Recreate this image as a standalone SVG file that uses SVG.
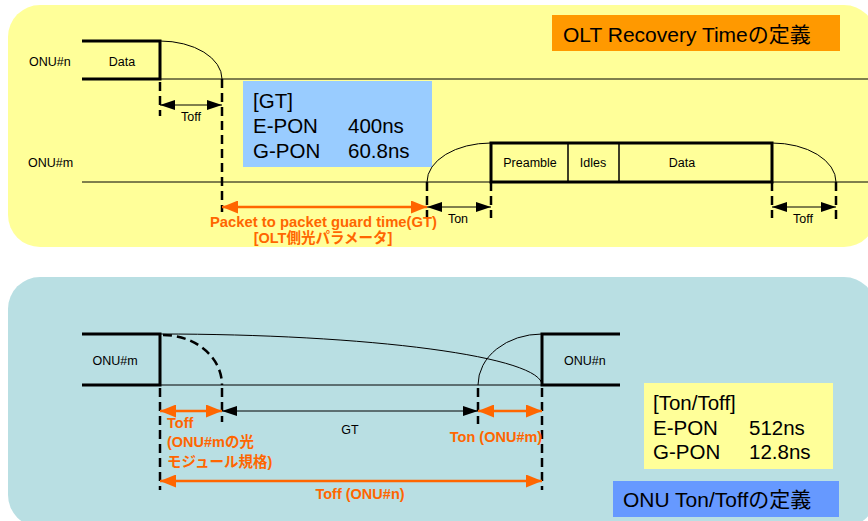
<svg xmlns="http://www.w3.org/2000/svg" width="868" height="521" viewBox="0 0 868 521">
<defs>
<style>
text{font-family:"Liberation Sans","Noto Sans CJK JP",Arial,sans-serif;fill:#000}
.sm{font-size:12.5px}
.big{font-size:20.5px}
.ttl{font-size:21px}
.or{fill:#ff6600;font-weight:bold;font-size:14.5px}
.thick{stroke:#000;stroke-width:3;fill:none}
.thin{stroke:#000;stroke-width:1;fill:none}
.dash{stroke:#000;stroke-width:2.5;fill:none;stroke-dasharray:9 5}
.arr{stroke:#000;stroke-width:1;fill:none;marker-start:url(#ab);marker-end:url(#ae)}
.oarr{stroke:#ff6600;stroke-width:2.5;fill:none;marker-start:url(#ob);marker-end:url(#oe)}
</style>
<marker id="ae" markerUnits="userSpaceOnUse" markerWidth="15" markerHeight="10" refX="15" refY="5" orient="auto"><path d="M0,0 L15,5 L0,10 z" fill="#000"/></marker>
<marker id="ab" markerUnits="userSpaceOnUse" markerWidth="15" markerHeight="10" refX="0" refY="5" orient="auto"><path d="M15,0 L0,5 L15,10 z" fill="#000"/></marker>
<marker id="oe" markerUnits="userSpaceOnUse" markerWidth="16" markerHeight="13" refX="16" refY="6.5" orient="auto"><path d="M0,0 L16,6.5 L0,13 z" fill="#ff6600"/></marker>
<marker id="ob" markerUnits="userSpaceOnUse" markerWidth="16" markerHeight="13" refX="0" refY="6.5" orient="auto"><path d="M16,0 L0,6.5 L16,13 z" fill="#ff6600"/></marker>
</defs>

<g id="panel-top">
<rect x="8" y="5" width="868" height="242" rx="32" fill="#ffff99"/>
</g>
<g id="panel-bottom">
<rect x="8" y="277" width="868" height="250" rx="32" fill="#b9dfe3"/>
</g>

<g id="title-top">
<rect x="552" y="15" width="288" height="36" fill="#ff9900"/>
<text x="563" y="42" class="ttl">OLT Recovery Timeの定義</text>
</g>

<g id="onu-n-top">
<text x="29" y="66" class="sm">ONU#n</text>
<path class="thick" d="M82,41 H160 V79 H82"/>
<text x="122" y="66" class="sm" text-anchor="middle">Data</text>
<path class="thin" d="M160,79 H868"/>
<path class="thin" d="M160,41 A62 38 0 0 1 222 79"/>
</g>

<g id="gt-box">
<rect x="243" y="81" width="189" height="86" fill="#99ccff"/>
<text x="253" y="108" class="big">[GT]</text>
<text x="253" y="133" class="big">E-PON</text>
<text x="348" y="133" class="big">400ns</text>
<text x="253" y="158" class="big">G-PON</text>
<text x="348" y="158" class="big">60.8ns</text>
</g>

<g id="onu-m-top">
<text x="28" y="167" class="sm">ONU#m</text>
<path class="thin" d="M82,182 H868"/>
<path class="thin" d="M427,182 A64 39 0 0 1 491 143"/>
<path class="thin" d="M772,143 A64 39 0 0 1 836 182"/>
<rect x="491" y="143" width="281" height="39" class="thick"/>
<path stroke="#000" stroke-width="1.5" d="M568,143 V182 M619,143 V182"/>
<text x="530" y="167" class="sm" text-anchor="middle">Preamble</text>
<text x="593" y="167" class="sm" text-anchor="middle">Idles</text>
<text x="682" y="167" class="sm" text-anchor="middle">Data</text>
</g>

<g id="onu-m-bottom">
<path class="thick" d="M82,334 H160 V385 H82"/>
<text x="115" y="365" class="sm" text-anchor="middle">ONU#m</text>
<path class="dash" d="M163,335 A59 50 0 0 1 222 385"/>
</g>
<g id="onu-n-bottom">
<path class="thick" d="M620,334 H542 V385 H620"/>
<text x="564" y="365" class="sm">ONU#n</text>
</g>
<g id="curves-bottom">
<path class="thin" d="M160,385 H542"/>
<path class="thin" d="M160,334 A382 51 0 0 1 542 385"/>
<path class="thin" d="M478,385 A64 51 0 0 1 542 334"/>
</g>

<g id="box-tonoff">
<rect x="644" y="383" width="189" height="86" fill="#ffff99"/>
<text x="653" y="410" class="big">[Ton/Toff]</text>
<text x="653" y="435" class="big">E-PON</text>
<text x="749" y="435" class="big">512ns</text>
<text x="653" y="459" class="big">G-PON</text>
<text x="749" y="459" class="big">12.8ns</text>
</g>
<g id="title-bottom">
<rect x="613" y="481" width="226" height="36" fill="#6699ff"/>
<text x="623" y="507" class="ttl">ONU Ton/Toffの定義</text>
</g>

<g id="connectors">
<path class="dash" d="M160,82 V116 M222,79 V212 M427,182 V218 M491,182 V218 M772,182 V218 M836,182 V222"/>
<path class="arr" d="M160,105 H222"/>
<path class="arr" d="M427,207 H491"/>
<path class="arr" d="M772,207 H836"/>
<path class="oarr" d="M222,207 H427"/>
<path class="dash" d="M160,388 V490 M222,388 V422 M478,388 V424 M542,388 V490"/>
<path class="arr" d="M222,411 H478"/>
<path class="oarr" d="M160,411 H222"/>
<path class="oarr" d="M478,411 H542"/>
<path class="oarr" d="M160,481 H542"/>
</g>

<g id="labels">
<text x="191" y="121" class="sm" text-anchor="middle">Toff</text>
<text x="458" y="223" class="sm" text-anchor="middle">Ton</text>
<text x="803" y="223" class="sm" text-anchor="middle">Toff</text>
<text x="210" y="227" class="or" textLength="227" lengthAdjust="spacingAndGlyphs">Packet to packet guard time(GT)</text>
<text x="323" y="243" class="or" text-anchor="middle">[OLT側光パラメータ]</text>
<text x="350" y="434" class="sm" text-anchor="middle">GT</text>
<text x="167" y="428" class="or">Toff</text>
<text x="167" y="447" class="or">(ONU#mの光</text>
<text x="167" y="467" class="or">モジュール規格)</text>
<text x="496" y="442" class="or" text-anchor="middle">Ton (ONU#m)</text>
<text x="360" y="499" class="or" text-anchor="middle">Toff (ONU#n)</text>
</g>
</svg>
